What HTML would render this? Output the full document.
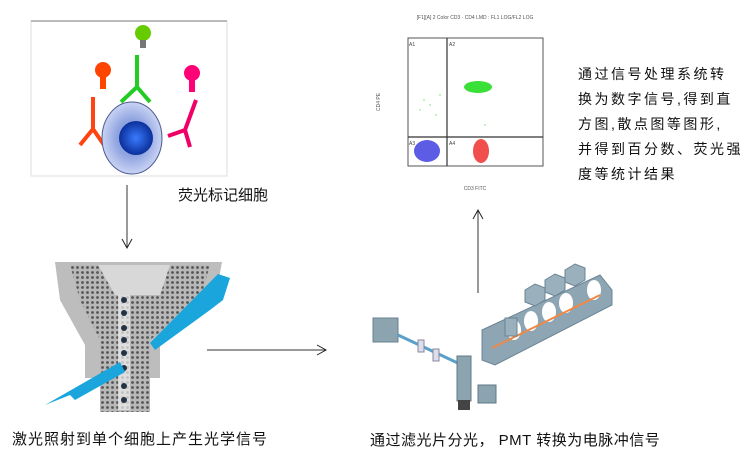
<!DOCTYPE html>
<html><head><meta charset="utf-8"><style>
body{margin:0;width:748px;height:451px;background:#fff;overflow:hidden;position:relative;font-family:"Liberation Sans","Noto Sans CJK SC",sans-serif}
.t{position:absolute;font-size:15px;color:#111;white-space:nowrap}
</style></head><body>
<svg width="748" height="451" style="position:absolute;left:0;top:0">
<defs>
<radialGradient id="cell" cx="50%" cy="50%" r="50%"><stop offset="0.5" stop-color="#8fa3e0"/><stop offset="1" stop-color="#c9d3f3"/></radialGradient>
<radialGradient id="nuc" cx="50%" cy="50%" r="50%"><stop offset="0" stop-color="#3a7bff"/><stop offset="1" stop-color="#0b2f9a"/></radialGradient>
<pattern id="dots" width="5" height="5" patternUnits="userSpaceOnUse"><rect width="5" height="5" fill="#b8b8b8"/><circle cx="2.5" cy="2.5" r="1.4" fill="#555"/></pattern>
<marker id="ah" markerWidth="12" markerHeight="12" refX="10" refY="6" orient="auto" markerUnits="userSpaceOnUse"><path d="M1,1 L10,6 L1,11" fill="none" stroke="#222" stroke-width="1"/></marker>
</defs>
<rect x="31" y="21" width="196" height="155" fill="#fff" stroke="#ddd"/>
<line x1="31" y1="21" x2="227" y2="21" stroke="#bbb" stroke-width="2"/>
<circle cx="143" cy="33" r="8" fill="#6c0"/><rect x="140" y="40" width="6" height="8" fill="#777"/>
<path d="M137,55 V87 M137,87 L121,102 M137,87 L150,102" stroke="#2c2" stroke-width="4" fill="none"/>
<circle cx="103" cy="70" r="8" fill="#f40"/><rect x="100" y="77" width="6" height="12" fill="#f40"/>
<path d="M93,97 V129 L80,145 M93,129 L104,145" stroke="#f41" stroke-width="4" fill="none"/>
<circle cx="192" cy="73" r="8" fill="#f07"/><rect x="189" y="80" width="6" height="12" fill="#f07"/>
<path d="M196,100 L185,130 L168,136 M185,130 L190,147" stroke="#e06" stroke-width="4" fill="none"/>
<ellipse cx="132" cy="138" rx="30" ry="36" fill="url(#cell)" stroke="#4a5a90"/>
<circle cx="136" cy="138" r="17" fill="url(#nuc)"/>
<line x1="127" y1="185" x2="127" y2="248" stroke="#333" marker-end="url(#ah)"/>
<path d="M55,262 H222 L215,300 L160,345 V378 H160 L150,378 H100 L85,378 V345 L60,300 Z" fill="#bdbdbd"/>
<path d="M70,265 H210 L200,300 L150,340 V378 H100 V340 L80,300 Z" fill="url(#dots)"/>
<path d="M98,265 H170 L160,295 H115 Z" fill="#d8d8d8"/>
<rect x="100" y="378" width="50" height="34" fill="url(#dots)"/>
<rect x="118" y="295" width="12" height="115" fill="#eee" opacity="0.7"/>
<g fill="#234">
<circle cx="124" cy="300" r="3"/><circle cx="124" cy="313" r="3"/><circle cx="124" cy="328" r="3"/><circle cx="124" cy="340" r="3"/><circle cx="124" cy="353" r="3"/><circle cx="124" cy="368" r="3"/><circle cx="124" cy="386" r="3"/><circle cx="124" cy="400" r="3"/></g>
<path d="M218,274 L230,278 L223,300 L210,310 L155,350 L150,343 Z" fill="#1aa6dc"/>
<path d="M45,405 L120,362 L125,372 L75,400 L70,395 Z" fill="#1aa6dc"/>
<line x1="207" y1="350" x2="326" y2="350" stroke="#333" marker-end="url(#ah)"/>
<rect x="373" y="318" width="25" height="24" fill="#8ca3b0" stroke="#6a8090"/>
<line x1="398" y1="335" x2="462" y2="365" stroke="#5aa0c8" stroke-width="3"/>
<rect x="418" y="340" width="6" height="12" fill="#dde" stroke="#889"/><rect x="433" y="349" width="6" height="12" fill="#dde" stroke="#889"/>
<rect x="457" y="356" width="14" height="45" fill="#8ca3b0" stroke="#607888"/>
<rect x="458" y="400" width="12" height="10" fill="#444"/>
<rect x="478" y="385" width="18" height="18" fill="#8ca3b0" stroke="#607888"/>
<path d="M482,330 L600,275 L612,290 L612,305 L495,365 L482,360 Z" fill="#8ea6b4" stroke="#6a8494"/>
<path d="M525,290 l10,-6 10,4 0,12 -10,6 -10,-4z M545,280 l10,-6 10,4 0,12 -10,6 -10,-4z M565,270 l10,-6 10,4 0,12 -10,6 -10,-4z" fill="#9ab0bd" stroke="#6a8494"/>
<ellipse cx="514" cy="330" rx="7" ry="10" fill="#fff"/><ellipse cx="531" cy="321" rx="7" ry="10" fill="#fff"/><ellipse cx="549" cy="312" rx="7" ry="10" fill="#fff"/><ellipse cx="566" cy="303" rx="7" ry="10" fill="#fff"/><ellipse cx="594" cy="290" rx="7" ry="10" fill="#fff"/>
<path d="M492,348 L600,295" stroke="#e84" stroke-width="2"/>
<rect x="505" y="318" width="12" height="18" fill="#9ab0bd" stroke="#6a8494"/>
<line x1="478" y1="293" x2="478" y2="210" stroke="#333" marker-end="url(#ah)"/>
<text x="475" y="19" font-size="5" text-anchor="middle" fill="#555" font-family="Liberation Sans">[F1][A] 2 Color CD3 · CD4 LMD : FL1 LOG/FL2 LOG</text>
<rect x="408" y="38" width="135" height="128" fill="#fff" stroke="#555"/>
<line x1="447" y1="38" x2="447" y2="166" stroke="#333" stroke-width="1.2"/>
<line x1="408" y1="137" x2="543" y2="137" stroke="#333" stroke-width="1.2"/>
<ellipse cx="478" cy="87" rx="14" ry="6" fill="#2d2" opacity="0.9"/>
<ellipse cx="427" cy="151" rx="13" ry="11" fill="#33d" opacity="0.8"/>
<ellipse cx="481" cy="151" rx="8" ry="12" fill="#e22" opacity="0.8"/>
<g fill="#6d6"><circle cx="420" cy="110" r=".7"/><circle cx="430" cy="105" r=".7"/><circle cx="436" cy="115" r=".7"/><circle cx="424" cy="100" r=".7"/><circle cx="440" cy="95" r=".7"/><circle cx="485" cy="125" r=".7"/></g>
<text x="409" y="46" font-size="5" fill="#444">A1</text><text x="449" y="46" font-size="5" fill="#444">A2</text>
<text x="409" y="145" font-size="5" fill="#444">A3</text><text x="449" y="145" font-size="5" fill="#444">A4</text>
<text x="475" y="190" font-size="5" text-anchor="middle" fill="#555">CD3 FITC</text>
<text x="380" y="102" font-size="5" text-anchor="middle" fill="#555" transform="rotate(-90 380 102)">CD4 PE</text>
</svg>
<div class="t" style="left:178px;top:184px">荧光标记细胞</div>
<div class="t" style="left:12px;top:428px;letter-spacing:1px">激光照射到单个细胞上产生光学信号</div>
<div class="t" style="left:370px;top:429px;letter-spacing:.5px">通过滤光片分光， PMT 转换为电脉冲信号</div>
<div class="t" style="left:578px;top:62px;line-height:25px;font-size:14px;letter-spacing:2.5px">通过信号处理系统转<br>换为数字信号,得到直<br>方图,散点图等图形,<br>并得到百分数、荧光强<br>度等统计结果</div>
</body></html>
